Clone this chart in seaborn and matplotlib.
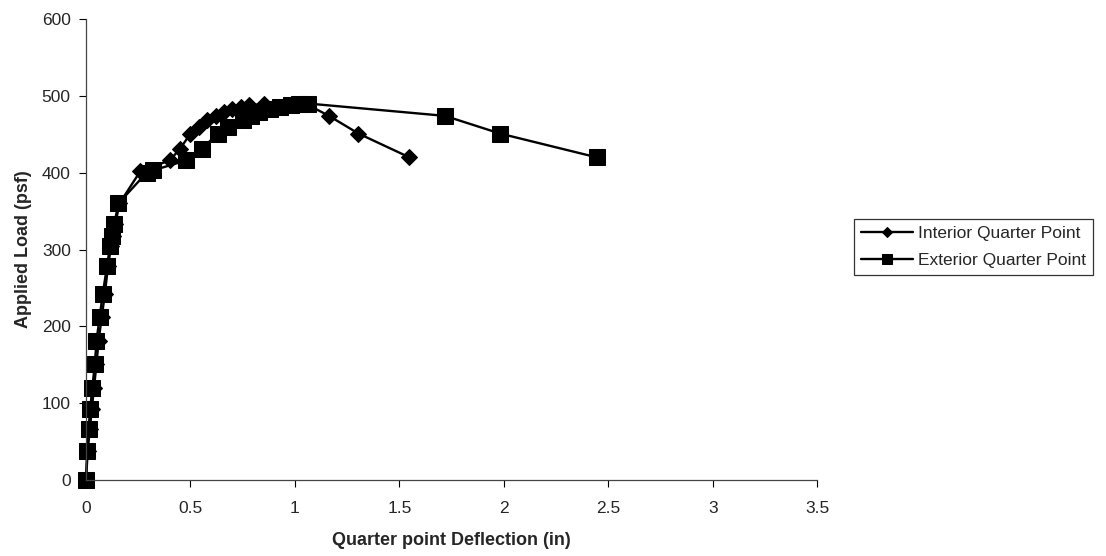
import matplotlib
matplotlib.use("Agg")
import matplotlib.pyplot as plt
import seaborn as sns
import pandas as pd

# Interior quarter point: deflection (in) vs applied load (psf)
interior_defl = [0, 0.008, 0.018, 0.028, 0.038, 0.05, 0.06, 0.075, 0.09, 0.105,
                 0.12, 0.13, 0.14, 0.16, 0.26, 0.40, 0.45, 0.50, 0.54, 0.58,
                 0.62, 0.66, 0.70, 0.74, 0.78, 0.85, 1.05, 1.163, 1.304, 1.548]
interior_load = [0, 38, 66, 93, 120, 151, 181, 212, 242, 278,
                 304, 318, 333, 360, 402, 416, 431, 451, 459, 468,
                 474, 479, 483, 486, 488, 489, 490, 474, 451, 420]

# Exterior quarter point
exterior_defl = [0, 0.005, 0.012, 0.02, 0.03, 0.042, 0.05, 0.065, 0.08, 0.10,
                 0.115, 0.125, 0.135, 0.155, 0.29, 0.32, 0.48, 0.555, 0.63, 0.68,
                 0.75, 0.79, 0.83, 0.88, 0.93, 0.98, 1.02, 1.065, 1.718, 1.982, 2.445]
exterior_load = [0, 38, 66, 93, 120, 151, 181, 212, 242, 278,
                 304, 318, 333, 360, 400, 403, 416, 431, 451, 459,
                 468, 474, 479, 483, 486, 488, 489, 490, 474, 451, 420]

x_ticks = [0, 0.5, 1, 1.5, 2, 2.5, 3, 3.5]
y_ticks = [0, 100, 200, 300, 400, 500, 600]

sns.set_style("white")
plt.rcParams["font.family"] = ["Liberation Sans", "DejaVu Sans"]

fig = plt.figure(figsize=(11.06, 5.56), dpi=100)
ax = fig.add_axes([0.0778, 0.1367, 0.661, 0.829])

df_int = pd.DataFrame({"defl": interior_defl, "load": interior_load})
df_ext = pd.DataFrame({"defl": exterior_defl, "load": exterior_load})

sns.lineplot(data=df_int, x="defl", y="load", sort=False, estimator=None,
             color="black", linewidth=1.7, marker="D", markersize=8,
             markeredgecolor="black", label="Interior Quarter Point",
             clip_on=False, ax=ax)
sns.lineplot(data=df_ext, x="defl", y="load", sort=False, estimator=None,
             color="black", linewidth=1.7, marker="s", markersize=11,
             markeredgecolor="black", label="Exterior Quarter Point",
             clip_on=False, ax=ax)

ax.set_xlim(0, 3.5)
ax.set_ylim(0, 600)
ax.set_xticks(x_ticks)
ax.set_xticklabels([f"{t:g}" for t in x_ticks])
ax.set_yticks(y_ticks)
ax.tick_params(axis="both", direction="out", length=5, width=0.8, color="black",
               labelsize=12.5, bottom=True, left=True)
ax.tick_params(axis="x", pad=10)
ax.tick_params(axis="y", pad=6)

for side in ["top", "right"]:
    ax.spines[side].set_visible(False)
for side in ["left", "bottom"]:
    ax.spines[side].set_color("#444444")
    ax.spines[side].set_linewidth(0.9)

ax.set_xlabel("Quarter point Deflection (in)", fontsize=13, fontweight="bold", labelpad=12)
ax.set_ylabel("Applied Load (psf)", fontsize=13, fontweight="bold", labelpad=7)

leg = ax.legend(loc="upper left", bbox_to_anchor=(0.772, 0.606),
                bbox_transform=fig.transFigure, fontsize=12.5, frameon=True,
                fancybox=False, shadow=False, handlelength=3.0,
                handletextpad=0.3, borderpad=0.4, labelspacing=0.7,
                borderaxespad=0, markerscale=0.65)
leg.get_frame().set_edgecolor("black")
leg.get_frame().set_linewidth(0.9)

fig.savefig("out.png", dpi=100)
plt.close(fig)
